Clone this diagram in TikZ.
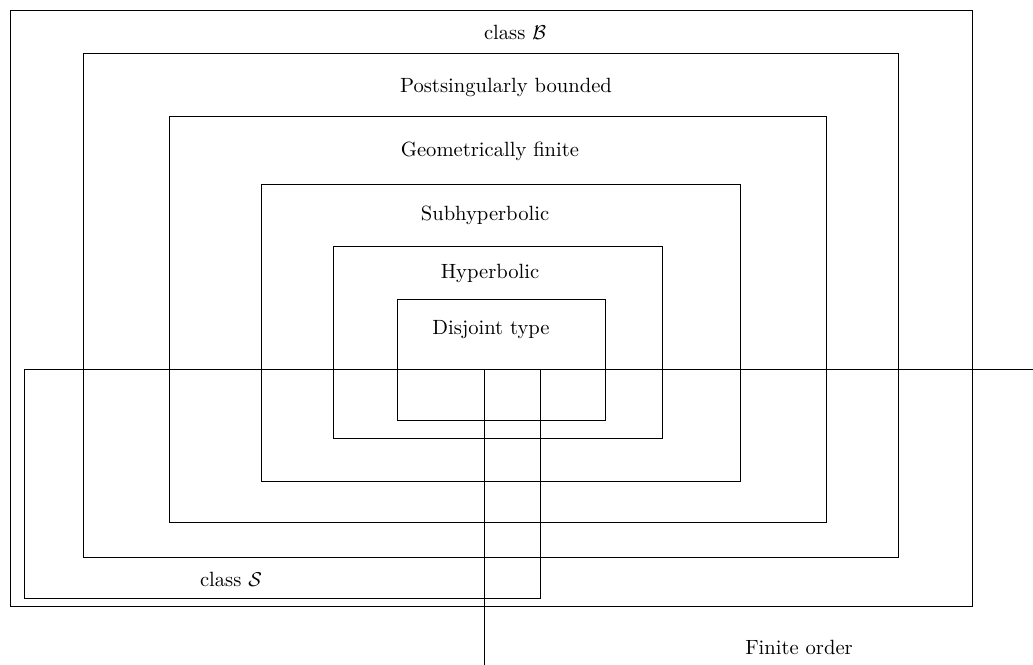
\documentclass[tikz,border=0pt]{standalone}
\begin{document}
\begin{tikzpicture}[x=0.5pt,y=-0.5pt,
  region/.style={draw=black,line width=0.5pt},
  lbl/.style={inner sep=0pt,anchor=center,font=\fontsize{10.3}{12}\selectfont}]
\useasboundingbox (0,0) rectangle (1033,664);
\draw[region] (10,10) rectangle (972,606);
\draw[region] (83,53) rectangle (898,557);
\draw[region] (169,116) rectangle (826,522);
\draw[region] (261,184) rectangle (740,481);
\draw[region] (333,246) rectangle (662,438);
\draw[region] (397,299) rectangle (605,420);
\draw[region] (24.5,369.5) rectangle (540,598);
\coordinate (fotop) at (1040,369.5);
\coordinate (focorner) at (484.5,369.5);
\coordinate (fobot) at (484.5,670);
\draw[region] (fotop) -- (focorner) -- (fobot);
\node[lbl] (B) at (515,32) {class $\mathcal{B}$};
\node[lbl] (PB) at (506,87) {Postsingularly bounded};
\node[lbl] (GF) at (490,151) {Geometrically finite};
\node[lbl] (SH) at (485,215) {Subhyperbolic};
\node[lbl] (H) at (490,273) {Hyperbolic};
\node[lbl] (DT) at (491,330) {Disjoint type};
\node[lbl] (S) at (231,579) {class $\mathcal{S}$};
\node[lbl] (FO) at (799,647) {Finite order};
\end{tikzpicture}
\end{document}
